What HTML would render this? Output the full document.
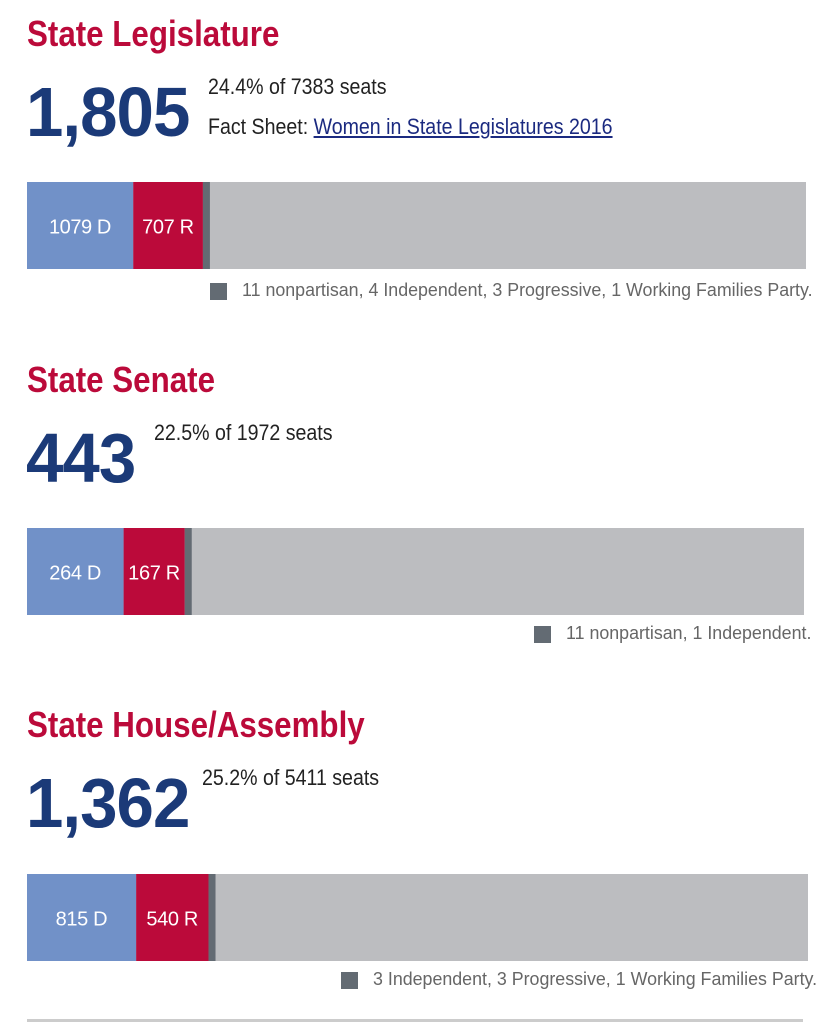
<!DOCTYPE html>
<html><head><meta charset="utf-8"><style>
body{margin:0;width:837px;height:1024px;background:#fff;position:relative;overflow:hidden;font-family:"Liberation Sans Narrow","Liberation Sans",sans-serif}
.t{position:absolute;white-space:nowrap;transform-origin:0 0}
.title{color:#bb0a3a;font-weight:bold;font-size:36px;left:27px;transform:scaleX(0.87)}
.big{color:#1b3a78;font-weight:bold;font-size:70px;left:26px;letter-spacing:-1px;transform:scaleX(0.96)}
.sub{color:#222;font-size:22px;transform:scaleX(0.89)}
.leg{color:#666;font-size:18px;transform:scaleX(0.99)}
a{color:#1b2a80}
.sq{position:absolute;width:17px;height:17px;background:#636b73}
</style></head><body>
<div class="t title" style="top:13px">State Legislature</div>
<div class="t big" style="top:72px">1,805</div>
<div class="t sub" style="left:208px;top:74px">24.4% of 7383 seats</div>
<div class="t sub" style="left:208px;top:114px">Fact Sheet: <a href="#">Women in State Legislatures 2016</a></div>
<svg id="bar1" style="position:absolute;left:0;top:182px" width="837" height="88"></svg>
<div class="sq" style="left:210px;top:283px"></div>
<div class="t leg" style="left:242px;top:280px">11 nonpartisan, 4 Independent, 3 Progressive, 1 Working Families Party.</div>

<div class="t title" style="top:359px">State Senate</div>
<div class="t big" style="top:418px">443</div>
<div class="t sub" style="left:154px;top:420px">22.5% of 1972 seats</div>
<svg id="bar2" style="position:absolute;left:0;top:528px" width="837" height="88"></svg>
<div class="sq" style="left:534px;top:626px"></div>
<div class="t leg" style="left:566px;top:623px">11 nonpartisan, 1 Independent.</div>

<div class="t title" style="top:704px">State House/Assembly</div>
<div class="t big" style="top:763px">1,362</div>
<div class="t sub" style="left:202px;top:765px">25.2% of 5411 seats</div>
<svg id="bar3" style="position:absolute;left:0;top:874px" width="837" height="88"></svg>
<div class="sq" style="left:341px;top:972px"></div>
<div class="t leg" style="left:373px;top:969px">3 Independent, 3 Progressive, 1 Working Families Party.</div>
<div style="position:absolute;left:27px;top:1019px;width:776px;height:3px;background:#ccc"></div>
<script>
const chambers=["legislature","senate","house"];
const demValues=[1079,264,815];
const repValues=[707,167,540];
const otherValues=[19,12,7];
const domainMax=[7909,2123,5830];
const barWidths=[779,777,781];
const NS="http://www.w3.org/2000/svg";
chambers.forEach((c,i)=>{
  const svg=document.getElementById("bar"+(i+1));
  const x0=27,W=barWidths[i],H=87;
  const sx=v=>v/domainMax[i]*W;
  function rect(x,w,fill,name){
    const r=document.createElementNS(NS,"rect");
    r.setAttribute("x",x);r.setAttribute("y",0);r.setAttribute("width",w);r.setAttribute("height",H);r.setAttribute("fill",fill);
    
    
    svg.appendChild(r);
  }
  function label(x,txt,name){
    const t=document.createElementNS(NS,"text");
    t.setAttribute("x",x);t.setAttribute("y",H/2+8);t.setAttribute("text-anchor","middle");
    t.setAttribute("fill","#fff");t.setAttribute("font-size","20");
    t.setAttribute("textLength",txt.length*10.4);
    t.setAttribute("font-family","'Liberation Sans Narrow','Liberation Sans',sans-serif");
    t.textContent=txt;
    
    
    svg.appendChild(t);
  }
  rect(x0,W,"#bcbdc0","bar-remaining-"+c);
  const dw=sx(demValues[i]),rw=sx(repValues[i]),ow=Math.max(7,sx(otherValues[i]));
  rect(x0,dw,"#7191c8","bar-dem-"+c);
  rect(x0+dw,rw,"#bb0a3a","bar-rep-"+c);
  rect(x0+dw+rw,ow,"#636b73","bar-other-"+c);
  label(x0+dw/2,demValues[i]+" D","label-dem-"+c);
  label(x0+dw+rw/2,repValues[i]+" R","label-rep-"+c);
});
</script>
</body></html>
